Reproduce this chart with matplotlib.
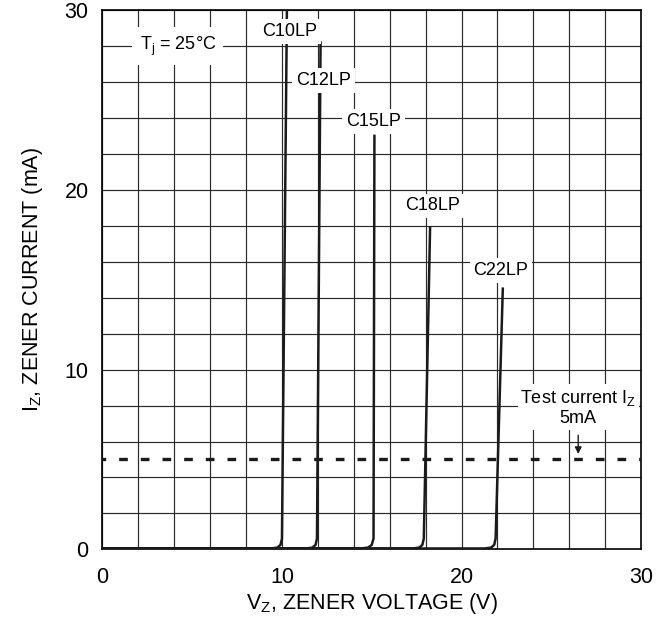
import matplotlib.pyplot as plt

plt.rcParams['font.family'] = ['Liberation Sans', 'DejaVu Sans']
plt.rcParams['mathtext.fontset'] = 'custom'
plt.rcParams['mathtext.rm'] = 'Liberation Sans'
plt.rcParams['mathtext.it'] = 'Liberation Sans:italic'

# zener curves (V, mA)
c10_v = [0, 9.4, 9.75, 9.92, 10.0, 10.28]
c10_i = [0.05, 0.05, 0.1, 0.25, 0.6, 30.5]
c12_v = [0, 11.35, 11.7, 11.87, 11.95, 12.15]
c12_i = [0.05, 0.05, 0.1, 0.25, 0.6, 28.2]
c15_v = [0, 14.4, 14.8, 15.0, 15.1, 15.15]
c15_i = [0.05, 0.05, 0.1, 0.25, 0.6, 23.0]
c18_v = [0, 17.3, 17.65, 17.82, 17.9, 18.25]
c18_i = [0.05, 0.05, 0.1, 0.25, 0.6, 17.9]
c22_v = [0, 21.3, 21.65, 21.82, 21.9, 22.3]
c22_i = [0.05, 0.05, 0.1, 0.25, 0.6, 14.5]

names = ['C10LP', 'C12LP', 'C15LP', 'C18LP', 'C22LP']
label_x = [10.4, 12.3, 15.1, 18.4, 22.2]
label_y = [28.8, 26.1, 23.8, 19.1, 15.5]

test_current = 5
major_ticks = [0, 10, 20, 30]
grid_ticks = list(range(0, 31, 2))

fig = plt.figure(figsize=(6.65, 6.25), dpi=100)
ax = fig.add_axes([0.154, 0.121, 0.810, 0.863])

ax.set_xlim(0, 30)
ax.set_ylim(0, 30)
ax.set_xticks(major_ticks)
ax.set_yticks(major_ticks)
ax.set_xticks(grid_ticks, minor=True)
ax.set_yticks(grid_ticks, minor=True)
ax.grid(True, which='both', color='#2a2a2a', linewidth=0.85)
ax.set_axisbelow(True)
ax.tick_params(which='both', length=0, labelsize=15.5)
ax.tick_params(axis='x', pad=13)
ax.tick_params(axis='y', pad=10)
for sp in ax.spines.values():
    sp.set_linewidth(1.2)
    sp.set_color('black')

for v, i in [(c10_v, c10_i), (c12_v, c12_i), (c15_v, c15_i),
             (c18_v, c18_i), (c22_v, c22_i)]:
    ax.plot(v, i, color='#1a1a1a', linewidth=1.8, zorder=3)

ax.plot([0, 30], [test_current, test_current], color='#1a1a1a',
        linewidth=2.4, linestyle=(1.5, (2.6, 3.9)), zorder=3)

box = dict(boxstyle='square,pad=0.22', facecolor='white', edgecolor='none')
for n, x, y in zip(names, label_x, label_y):
    ax.text(x, y, n, fontsize=13, ha='center', va='center', bbox=box, zorder=4)

ax.text(4.2, 28.0, 'T$_\\mathrm{j}$ = 25°C', fontsize=13, ha='center',
        va='center', bbox=dict(boxstyle='square,pad=0.4', facecolor='white',
                               edgecolor='none'), zorder=4)

ax.text(26.5, 7.9, 'Test current I$_\\mathrm{Z}$\n5mA', fontsize=13,
        ha='center', va='center', linespacing=1.15,
        bbox=dict(boxstyle='square,pad=0.15', facecolor='white', edgecolor='none'),
        zorder=4)
ax.annotate('', xy=(26.5, 5.15), xytext=(26.5, 6.5),
            arrowprops=dict(arrowstyle='-|>', color='#1a1a1a', lw=1,
                            mutation_scale=10), zorder=5)

ax.set_xlabel('V$_\\mathrm{Z}$, ZENER VOLTAGE (V)', fontsize=15.5, labelpad=2)
ax.set_ylabel('I$_\\mathrm{Z}$, ZENER CURRENT (mA)', fontsize=15.5, labelpad=14)

fig.savefig('out.png', dpi=100)
